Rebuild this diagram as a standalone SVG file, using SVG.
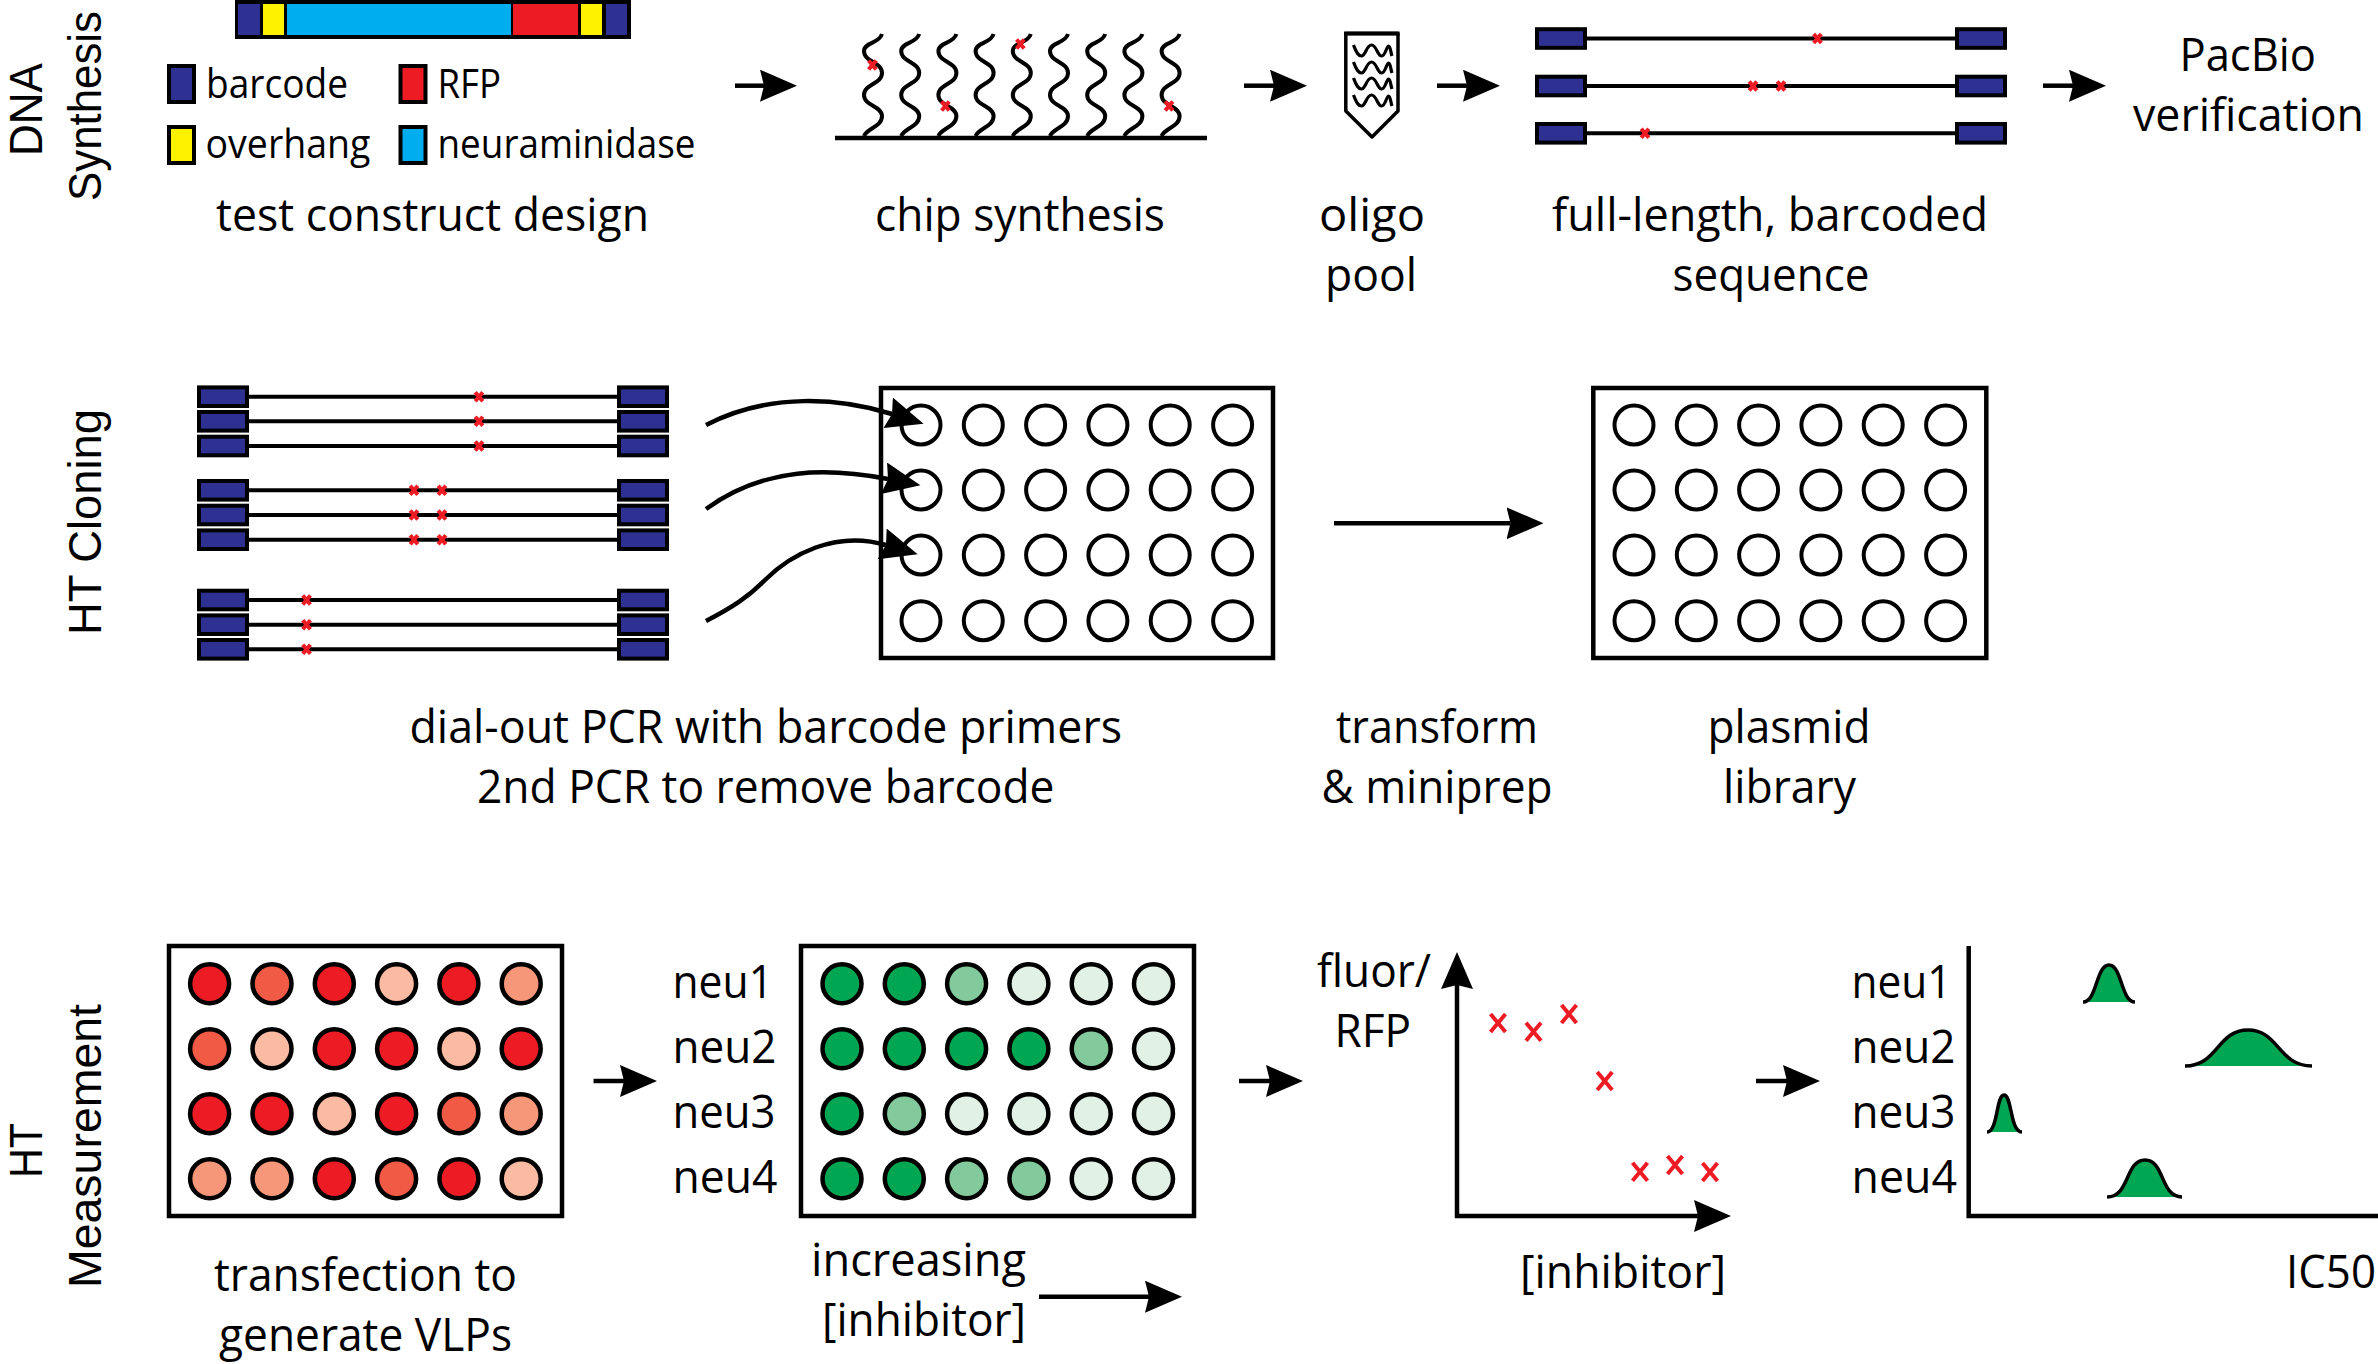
<svg xmlns="http://www.w3.org/2000/svg" width="2378" height="1364" viewBox="0 0 2378 1364">
<style>
text{font-family:"Open Sans","Noto Sans","DejaVu Sans",sans-serif;fill:#000}
.t{font-size:46px}
.s{font-size:41px}
.h{font-family:"Liberation Sans","Open Sans",sans-serif;font-size:46px}
.line{fill:none;stroke:#000;stroke-width:4.5}
.seq{fill:none;stroke:#000;stroke-width:4}
.navy{fill:#2E3192;stroke:#000;stroke-width:4}
.yel{fill:#FFF200;stroke:#000;stroke-width:4}
.cyan{fill:#00AEEF;stroke:#000;stroke-width:4}
.red{fill:#ED1C24;stroke:#000;stroke-width:4}
.mut{fill:none;stroke:#ED1C24;stroke-width:4}
.x{fill:none;stroke:#ED1C24;stroke-width:4}
.wave{fill:none;stroke:#000;stroke-width:4}
.sq{fill:none;stroke:#000;stroke-width:3.2}
.plate{fill:#fff;stroke:#000;stroke-width:4.5}
.well{fill:#fff;stroke:#000;stroke-width:4}
.w{stroke:#000;stroke-width:4.5}
.r1{fill:#ED1C24}.r2{fill:#F15A45}.r3{fill:#F6977A}.r4{fill:#FBBBA3}
.g1{fill:#00A651}.g2{fill:#82CA9C}.g3{fill:#E2F1E6}
.peak{fill:#00A651;stroke:#000;stroke-width:3.5}
.ax{fill:none;stroke:#000;stroke-width:4.5}
</style>
<defs>
<marker id="head" markerUnits="userSpaceOnUse" viewBox="0 0 38 32" markerWidth="38" markerHeight="32" refX="4" refY="16" orient="auto"><path d="M0,0 L37,16 L0,32 L4,16 Z" fill="#000"/></marker>
<g id="m"><path class="mut" d="M-3.8,-4.5 L3.8,4.5 M3.8,-4.5 L-3.8,4.5"/></g>
<g id="c"><path class="x" d="M-7.5,-9 L7.5,9 M7.5,-9 L-7.5,9"/></g>
<g id="strand">
<line class="seq" x1="50" y1="0" x2="422" y2="0"/>
<rect class="navy" x="2" y="-9.3" width="48" height="18.6"/>
<rect class="navy" x="422" y="-9.3" width="48" height="18.6"/>
</g>
<path id="osc" class="wave" d="M0,136 C3,128 18,127 18,116 C18,106 0,106 0,95 C0,84 18,84 18,73 C18,62 0,62 0,51 C0,42 15,44 18,34"/>
<path id="sq1" class="sq" d="M0,-5 C3,3 5,6 8,6 C12,6 13,-5 18,-5 C23,-5 24,6 28,6 C32,6 33,-4 35,-4 C37,-4 37,2 38.5,6"/>
<g id="wells">
<circle class="well" cx="0" cy="0" r="19.5"/><circle class="well" cx="62.3" cy="0" r="19.5"/><circle class="well" cx="124.6" cy="0" r="19.5"/><circle class="well" cx="186.9" cy="0" r="19.5"/><circle class="well" cx="249.2" cy="0" r="19.5"/><circle class="well" cx="311.6" cy="0" r="19.5"/>
<circle class="well" cx="0" cy="65" r="19.5"/><circle class="well" cx="62.3" cy="65" r="19.5"/><circle class="well" cx="124.6" cy="65" r="19.5"/><circle class="well" cx="186.9" cy="65" r="19.5"/><circle class="well" cx="249.2" cy="65" r="19.5"/><circle class="well" cx="311.6" cy="65" r="19.5"/>
<circle class="well" cx="0" cy="130" r="19.5"/><circle class="well" cx="62.3" cy="130" r="19.5"/><circle class="well" cx="124.6" cy="130" r="19.5"/><circle class="well" cx="186.9" cy="130" r="19.5"/><circle class="well" cx="249.2" cy="130" r="19.5"/><circle class="well" cx="311.6" cy="130" r="19.5"/>
<circle class="well" cx="0" cy="195.7" r="19.5"/><circle class="well" cx="62.3" cy="195.7" r="19.5"/><circle class="well" cx="124.6" cy="195.7" r="19.5"/><circle class="well" cx="186.9" cy="195.7" r="19.5"/><circle class="well" cx="249.2" cy="195.7" r="19.5"/><circle class="well" cx="311.6" cy="195.7" r="19.5"/>
</g>
</defs>
<rect width="2378" height="1364" fill="#fff"/>

<g id="section-labels">
<text class="h" transform="translate(42,156) rotate(-90)" textLength="93" lengthAdjust="spacingAndGlyphs">DNA</text>
<text class="h" transform="translate(101,201) rotate(-90)" textLength="190" lengthAdjust="spacingAndGlyphs">Synthesis</text>
<text class="h" transform="translate(101,635) rotate(-90)" textLength="226" lengthAdjust="spacingAndGlyphs">HT Cloning</text>
<text class="h" transform="translate(42,1178) rotate(-90)" textLength="55" lengthAdjust="spacingAndGlyphs">HT</text>
<text class="h" transform="translate(101,1288) rotate(-90)" textLength="284" lengthAdjust="spacingAndGlyphs">Measurement</text>
</g>

<g id="test-construct">
<rect x="235" y="-2" width="396" height="41" fill="#000"/>
<rect x="238" y="4" width="22" height="31" fill="#2E3192"/>
<rect x="263" y="4" width="21" height="31" fill="#FFF200"/>
<rect x="287" y="4" width="224" height="31" fill="#00AEEF"/>
<rect x="513" y="4" width="65" height="31" fill="#ED1C24"/>
<rect x="581" y="4" width="21" height="31" fill="#FFF200"/>
<rect x="606" y="4" width="21" height="31" fill="#2E3192"/>
<text class="t" x="216" y="231" textLength="433" lengthAdjust="spacingAndGlyphs">test construct design</text>
</g>
<g id="legend">
<rect class="navy" x="169" y="66" width="25" height="36"/>
<text class="s" x="206" y="98" textLength="142" lengthAdjust="spacingAndGlyphs">barcode</text>
<rect class="red" x="400.5" y="66" width="25" height="36"/>
<text class="s" x="437.5" y="98" textLength="63.5" lengthAdjust="spacingAndGlyphs">RFP</text>
<rect class="yel" x="169" y="127" width="25" height="36"/>
<text class="s" x="205.5" y="158" textLength="165" lengthAdjust="spacingAndGlyphs">overhang</text>
<rect class="cyan" x="400.5" y="127" width="25" height="36"/>
<text class="s" x="437.5" y="158" textLength="258" lengthAdjust="spacingAndGlyphs">neuraminidase</text>
</g>

<g id="chip-synthesis">
<use href="#osc" x="864"/><use href="#osc" x="901.2"/><use href="#osc" x="938.4"/><use href="#osc" x="975.6"/><use href="#osc" x="1012.8"/><use href="#osc" x="1050"/><use href="#osc" x="1087.2"/><use href="#osc" x="1124.4"/><use href="#osc" x="1161.6"/>
<line x1="835" y1="138" x2="1207" y2="138" stroke="#000" stroke-width="4.5"/>
<use href="#m" x="872.4" y="65"/><use href="#m" x="945.4" y="106"/><use href="#m" x="1020.4" y="44"/><use href="#m" x="1169" y="106"/>
<text class="t" x="875" y="231" textLength="290" lengthAdjust="spacingAndGlyphs">chip synthesis</text>
</g>

<g id="oligo-pool">
<path d="M1345.8,33.5 H1398 V111 L1372,137 L1345.8,111 Z" fill="#fff" stroke="#000" stroke-width="3.5" stroke-linejoin="round"/>
<line x1="1344" y1="33.5" x2="1399.5" y2="33.5" stroke="#000" stroke-width="4"/>
<use href="#sq1" x="1353.5" y="50"/><use href="#sq1" x="1353.5" y="67"/><use href="#sq1" x="1353.5" y="83"/><use href="#sq1" x="1353.5" y="100"/>
<text class="t" x="1319" y="231" textLength="106" lengthAdjust="spacingAndGlyphs">oligo</text>
<text class="t" x="1325" y="291" textLength="92" lengthAdjust="spacingAndGlyphs">pool</text>
</g>

<g id="full-length-sequence">
<use href="#strand" x="1535" y="38.5"/><use href="#strand" x="1535" y="86"/><use href="#strand" x="1535" y="133.3"/>
<use href="#m" x="1817.5" y="38.5"/><use href="#m" x="1753" y="86"/><use href="#m" x="1781" y="86"/><use href="#m" x="1645" y="133.3"/>
<text class="t" x="1552" y="231" textLength="436" lengthAdjust="spacingAndGlyphs">full-length, barcoded</text>
<text class="t" x="1672.5" y="291" textLength="197" lengthAdjust="spacingAndGlyphs">sequence</text>
</g>

<g id="pacbio">
<text class="t" x="2179.5" y="71" textLength="136.5" lengthAdjust="spacingAndGlyphs">PacBio</text>
<text class="t" x="2133" y="131" textLength="231" lengthAdjust="spacingAndGlyphs">verification</text>
</g>

<g id="dial-out-pcr">
<use href="#strand" x="197" y="396.7"/><use href="#strand" x="197" y="421.3"/><use href="#strand" x="197" y="446"/>
<use href="#strand" x="197" y="490.3"/><use href="#strand" x="197" y="515"/><use href="#strand" x="197" y="539.7"/>
<use href="#strand" x="197" y="600"/><use href="#strand" x="197" y="624.7"/><use href="#strand" x="197" y="649.3"/>
<use href="#m" x="479" y="396.7"/><use href="#m" x="479" y="421.3"/><use href="#m" x="479" y="446"/>
<use href="#m" x="414" y="490.3"/><use href="#m" x="442" y="490.3"/><use href="#m" x="414" y="515"/><use href="#m" x="442" y="515"/><use href="#m" x="414" y="539.7"/><use href="#m" x="442" y="539.7"/>
<use href="#m" x="306.6" y="600"/><use href="#m" x="306.6" y="624.7"/><use href="#m" x="306.6" y="649.3"/>
<text class="t" x="409.5" y="743" textLength="712.5" lengthAdjust="spacingAndGlyphs">dial-out PCR with barcode primers</text>
<text class="t" x="477" y="803" textLength="577.5" lengthAdjust="spacingAndGlyphs">2nd PCR to remove barcode</text>
</g>

<g id="plate-cloning">
<rect class="plate" x="881" y="388" width="392" height="270"/>
<use href="#wells" x="921" y="425"/>
</g>

<g id="transform">
<text class="t" x="1336" y="743" textLength="202" lengthAdjust="spacingAndGlyphs">transform</text>
<text class="t" x="1321.5" y="803" textLength="231" lengthAdjust="spacingAndGlyphs">&amp; miniprep</text>
</g>

<g id="plasmid-library">
<rect class="plate" x="1593.3" y="388" width="393" height="270"/>
<use href="#wells" x="1634" y="425"/>
<text class="t" x="1707.5" y="743" textLength="163" lengthAdjust="spacingAndGlyphs">plasmid</text>
<text class="t" x="1723" y="803" textLength="133" lengthAdjust="spacingAndGlyphs">library</text>
</g>

<g id="plate-transfection">
<rect class="plate" x="169" y="946" width="393" height="270"/>
<circle class="w r1" cx="209.6" cy="983.7" r="19.5"/><circle class="w r2" cx="272" cy="983.7" r="19.5"/><circle class="w r1" cx="334.3" cy="983.7" r="19.5"/><circle class="w r4" cx="396.6" cy="983.7" r="19.5"/><circle class="w r1" cx="458.9" cy="983.7" r="19.5"/><circle class="w r3" cx="521.2" cy="983.7" r="19.5"/>
<circle class="w r2" cx="209.6" cy="1048.7" r="19.5"/><circle class="w r4" cx="272" cy="1048.7" r="19.5"/><circle class="w r1" cx="334.3" cy="1048.7" r="19.5"/><circle class="w r1" cx="396.6" cy="1048.7" r="19.5"/><circle class="w r4" cx="458.9" cy="1048.7" r="19.5"/><circle class="w r1" cx="521.2" cy="1048.7" r="19.5"/>
<circle class="w r1" cx="209.6" cy="1113.7" r="19.5"/><circle class="w r1" cx="272" cy="1113.7" r="19.5"/><circle class="w r4" cx="334.3" cy="1113.7" r="19.5"/><circle class="w r1" cx="396.6" cy="1113.7" r="19.5"/><circle class="w r2" cx="458.9" cy="1113.7" r="19.5"/><circle class="w r3" cx="521.2" cy="1113.7" r="19.5"/>
<circle class="w r3" cx="209.6" cy="1178.7" r="19.5"/><circle class="w r3" cx="272" cy="1178.7" r="19.5"/><circle class="w r1" cx="334.3" cy="1178.7" r="19.5"/><circle class="w r2" cx="396.6" cy="1178.7" r="19.5"/><circle class="w r1" cx="458.9" cy="1178.7" r="19.5"/><circle class="w r4" cx="521.2" cy="1178.7" r="19.5"/>
<text class="t" x="214" y="1291" textLength="303" lengthAdjust="spacingAndGlyphs">transfection to</text>
<text class="t" x="219" y="1351" textLength="293" lengthAdjust="spacingAndGlyphs">generate VLPs</text>
</g>

<g id="plate-inhibitor">
<text class="t" x="672.5" y="998" textLength="100.5" lengthAdjust="spacingAndGlyphs">neu1</text>
<text class="t" x="672.5" y="1063" textLength="104" lengthAdjust="spacingAndGlyphs">neu2</text>
<text class="t" x="672.5" y="1128" textLength="103" lengthAdjust="spacingAndGlyphs">neu3</text>
<text class="t" x="672.5" y="1193" textLength="105" lengthAdjust="spacingAndGlyphs">neu4</text>
<rect class="plate" x="801" y="946" width="393" height="270"/>
<circle class="w g1" cx="842" cy="983.7" r="19.5"/><circle class="w g1" cx="904.3" cy="983.7" r="19.5"/><circle class="w g2" cx="966.6" cy="983.7" r="19.5"/><circle class="w g3" cx="1028.9" cy="983.7" r="19.5"/><circle class="w g3" cx="1091.2" cy="983.7" r="19.5"/><circle class="w g3" cx="1153.5" cy="983.7" r="19.5"/>
<circle class="w g1" cx="842" cy="1048.7" r="19.5"/><circle class="w g1" cx="904.3" cy="1048.7" r="19.5"/><circle class="w g1" cx="966.6" cy="1048.7" r="19.5"/><circle class="w g1" cx="1028.9" cy="1048.7" r="19.5"/><circle class="w g2" cx="1091.2" cy="1048.7" r="19.5"/><circle class="w g3" cx="1153.5" cy="1048.7" r="19.5"/>
<circle class="w g1" cx="842" cy="1113.7" r="19.5"/><circle class="w g2" cx="904.3" cy="1113.7" r="19.5"/><circle class="w g3" cx="966.6" cy="1113.7" r="19.5"/><circle class="w g3" cx="1028.9" cy="1113.7" r="19.5"/><circle class="w g3" cx="1091.2" cy="1113.7" r="19.5"/><circle class="w g3" cx="1153.5" cy="1113.7" r="19.5"/>
<circle class="w g1" cx="842" cy="1178.7" r="19.5"/><circle class="w g1" cx="904.3" cy="1178.7" r="19.5"/><circle class="w g2" cx="966.6" cy="1178.7" r="19.5"/><circle class="w g2" cx="1028.9" cy="1178.7" r="19.5"/><circle class="w g3" cx="1091.2" cy="1178.7" r="19.5"/><circle class="w g3" cx="1153.5" cy="1178.7" r="19.5"/>
<text class="t" x="811" y="1276" textLength="215" lengthAdjust="spacingAndGlyphs">increasing</text>
<text class="t" x="822" y="1336" textLength="204" lengthAdjust="spacingAndGlyphs">[inhibitor]</text>
</g>

<g id="scatter-plot">
<text class="t" x="1317" y="987" textLength="114" lengthAdjust="spacingAndGlyphs">fluor/</text>
<text class="t" x="1334.5" y="1047" textLength="76.5" lengthAdjust="spacingAndGlyphs">RFP</text>
<use href="#c" x="1498" y="1023"/><use href="#c" x="1533.5" y="1031.7"/><use href="#c" x="1569" y="1014"/><use href="#c" x="1604.7" y="1081"/><use href="#c" x="1640" y="1171.7"/><use href="#c" x="1675" y="1165"/><use href="#c" x="1710" y="1172"/>
<text class="t" x="1520" y="1288" textLength="206" lengthAdjust="spacingAndGlyphs">[inhibitor]</text>
</g>

<g id="ic50-plot">
<text class="t" x="1851.5" y="998" textLength="100" lengthAdjust="spacingAndGlyphs">neu1</text>
<text class="t" x="1851.5" y="1063" textLength="104" lengthAdjust="spacingAndGlyphs">neu2</text>
<text class="t" x="1851.5" y="1128" textLength="104" lengthAdjust="spacingAndGlyphs">neu3</text>
<text class="t" x="1851.5" y="1193" textLength="105.5" lengthAdjust="spacingAndGlyphs">neu4</text>
<path class="ax" d="M1968.7,946 V1216 H2378"/>
<path class="peak" d="M2083,1002 C2097,1002 2096,965 2109,965 C2122,965 2121,1002 2135,1002"/>
<path class="peak" d="M2185,1066 C2218,1066 2217,1030 2248,1030 C2279,1030 2278,1066 2312,1066"/>
<path class="peak" d="M1987,1132 C1998,1132 1996,1095 2004,1095 C2012,1095 2010,1132 2022,1132"/>
<path class="peak" d="M2107,1197 C2130,1197 2125,1160 2145,1160 C2165,1160 2160,1197 2182,1197"/>
<text class="t" x="2286" y="1288" textLength="90" lengthAdjust="spacingAndGlyphs">IC50</text>
</g>

<g id="connectors">
<line class="line" x1="735" y1="85.7" x2="764" y2="85.7" marker-end="url(#head)"/>
<line class="line" x1="1244" y1="85.7" x2="1274" y2="85.7" marker-end="url(#head)"/>
<line class="line" x1="1437" y1="85.7" x2="1467" y2="85.7" marker-end="url(#head)"/>
<line class="line" x1="2043" y1="85.7" x2="2073" y2="85.7" marker-end="url(#head)"/>
<path class="line" d="M706,425 C770,392 840,398 892,414" marker-end="url(#head)"/>
<path class="line" d="M706,509 C765,466 830,468 888,479" marker-end="url(#head)"/>
<path class="line" d="M706,621 C733,607 748,597 765,580 C790,555 835,530 886,545" marker-end="url(#head)"/>
<line class="line" x1="1334" y1="523.3" x2="1510.5" y2="523.3" marker-end="url(#head)"/>
<line class="line" x1="593.5" y1="1081" x2="624" y2="1081" marker-end="url(#head)"/>
<line class="line" x1="1239" y1="1081" x2="1270" y2="1081" marker-end="url(#head)"/>
<line class="line" x1="1756" y1="1081" x2="1787" y2="1081" marker-end="url(#head)"/>
<line class="line" x1="1039" y1="1296.7" x2="1149" y2="1296.7" marker-end="url(#head)"/>
<line class="ax" x1="1457" y1="1218" x2="1457" y2="985" marker-end="url(#head)"/>
<line class="ax" x1="1455" y1="1216" x2="1698" y2="1216" marker-end="url(#head)"/>
</g>
</svg>
